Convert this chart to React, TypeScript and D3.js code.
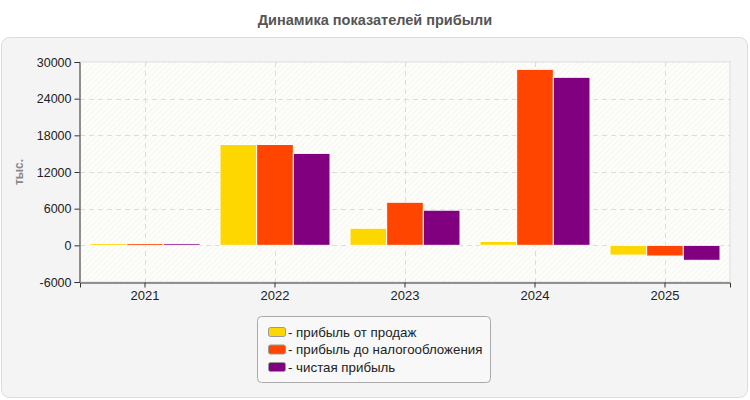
import React, { useEffect, useRef } from "react";
import * as d3 from "d3";

const years = ["2021", "2022", "2023", "2024", "2025"];
const seriesNames = [
  "прибыль от продаж",
  "прибыль до налогообложения",
  "чистая прибыль",
];
const salesProfit = [320, 16500, 2800, 650, -1600];
const pretaxProfit = [300, 16500, 7050, 28800, -1750];
const netProfit = [280, 15050, 5750, 27500, -2450];
const seriesColors = ["#ffd700", "#ff4500", "#800080"];
const yTicks = [-6000, 0, 6000, 12000, 18000, 24000, 30000];

const WIDTH = 750;
const HEIGHT = 400;

export default function App() {
  const ref = useRef<SVGSVGElement>(null);

  useEffect(() => {
    const svg = d3.select(ref.current);
    svg.selectAll("*").remove();

    const series = [salesProfit, pretaxProfit, netProfit];
    const margin = { left: 80, right: 20, top: 62, bottom: 118 };
    const plotW = WIDTH - margin.left - margin.right;
    const plotH = HEIGHT - margin.top - margin.bottom;
    const font = "Arial, 'Liberation Sans', sans-serif";

    const defs = svg.append("defs");
    const pattern = defs
      .append("pattern")
      .attr("id", "hatch")
      .attr("patternUnits", "userSpaceOnUse")
      .attr("width", 4)
      .attr("height", 4)
      .attr("patternTransform", "rotate(45)");
    pattern.append("rect").attr("width", 4).attr("height", 4).attr("fill", "#fdfdfa");
    pattern
      .append("line")
      .attr("x1", 0)
      .attr("y1", 0)
      .attr("x2", 0)
      .attr("y2", 4)
      .attr("stroke", "#ededea")
      .attr("stroke-width", 1);

    // outer panel
    svg
      .append("rect")
      .attr("x", 1.5)
      .attr("y", 37.5)
      .attr("width", 746)
      .attr("height", 360)
      .attr("rx", 8)
      .attr("fill", "#f4f4f4")
      .attr("stroke", "#dcdcdc");

    svg
      .append("text")
      .attr("x", WIDTH / 2)
      .attr("y", 25)
      .attr("text-anchor", "middle")
      .attr("font-family", font)
      .attr("font-size", 14.5)
      .attr("font-weight", "bold")
      .attr("fill", "#555")
      .text("Динамика показателей прибыли");

    const x = d3
      .scaleBand()
      .domain(years)
      .range([margin.left, margin.left + plotW]);
    const y = d3
      .scaleLinear()
      .domain([-6000, 30000])
      .range([margin.top + plotH, margin.top]);
    const inner = d3
      .scaleBand()
      .domain(d3.range(series.length).map(String))
      .range([10, x.bandwidth() - 10]);

    svg
      .append("rect")
      .attr("x", margin.left)
      .attr("y", margin.top)
      .attr("width", plotW)
      .attr("height", plotH)
      .attr("fill", "url(#hatch)")
      .attr("stroke", "#ddd");

    const grid = svg.append("g").attr("stroke", "#dcdcdc").attr("stroke-dasharray", "5,4");
    grid
      .selectAll("line.h")
      .data(yTicks.slice(1, -1))
      .join("line")
      .attr("x1", margin.left)
      .attr("x2", margin.left + plotW)
      .attr("y1", (d) => Math.round(y(d)) + 0.5)
      .attr("y2", (d) => Math.round(y(d)) + 0.5);
    grid
      .selectAll("line.v")
      .data(years)
      .join("line")
      .attr("x1", (d) => Math.round(x(d)! + x.bandwidth() / 2) + 0.5)
      .attr("x2", (d) => Math.round(x(d)! + x.bandwidth() / 2) + 0.5)
      .attr("y1", margin.top)
      .attr("y2", margin.top + plotH);

    const groups = svg
      .append("g")
      .selectAll("g")
      .data(years)
      .join("g")
      .attr("transform", (d) => `translate(${x(d)},0)`);

    groups
      .selectAll("rect")
      .data((_, i) => series.map((s, k) => ({ k, v: s[i] })))
      .join("rect")
      .attr("x", (d) => inner(String(d.k))!)
      .attr("width", inner.bandwidth())
      .attr("y", (d) => y(Math.max(0, d.v)))
      .attr("height", (d) => Math.abs(y(d.v) - y(0)))
      .attr("fill", (d) => seriesColors[d.k])
      .attr("stroke", "#fff")
      .attr("stroke-width", 1);

    const yAxis = svg
      .append("g")
      .attr("transform", `translate(${margin.left - 0.5},0)`)
      .call(d3.axisLeft(y).tickValues(yTicks).tickSize(5).tickPadding(3).tickFormat((d) => String(d)));
    const xAxis = svg
      .append("g")
      .attr("transform", `translate(0,${margin.top + plotH + 0.5})`)
      .call(d3.axisBottom(x).tickSize(5).tickPadding(3));
    [yAxis, xAxis].forEach((a) => {
      a.select(".domain").attr("stroke", "#333");
      a.selectAll(".tick line").attr("stroke", "#333");
      a.selectAll("text").attr("font-family", font).attr("font-size", 12.5).attr("fill", "#222");
    });
    xAxis.selectAll("text").attr("font-size", 13);

    svg
      .append("text")
      .attr("transform", `translate(23,${margin.top + plotH / 2}) rotate(-90)`)
      .attr("text-anchor", "middle")
      .attr("font-family", font)
      .attr("font-size", 12)
      .attr("font-weight", "bold")
      .attr("fill", "#888")
      .text("тыс.");

    // legend
    const legend = svg.append("g");
    legend
      .append("rect")
      .attr("x", 257.5)
      .attr("y", 316.5)
      .attr("width", 233)
      .attr("height", 66)
      .attr("rx", 4)
      .attr("fill", "#f8f8f8")
      .attr("stroke", "#aaa");
    const items = legend
      .selectAll("g")
      .data(seriesNames)
      .join("g")
      .attr("transform", (_, i) => `translate(268,${332 + i * 17.5})`);
    items
      .append("rect")
      .attr("x", 0.5)
      .attr("y", -4.5)
      .attr("width", 17)
      .attr("height", 9)
      .attr("rx", 2)
      .attr("fill", (_, i) => seriesColors[i])
      .attr("stroke", "#999");
    items
      .append("text")
      .attr("x", 20)
      .attr("y", 4.5)
      .attr("font-family", font)
      .attr("font-size", 13.3)
      .attr("fill", "#222")
      .text((d) => "- " + d);
  }, []);

  return (
    <div style={{ position: "absolute", left: 0, top: 0 }}>
      <svg ref={ref} width={WIDTH} height={HEIGHT} style={{ display: "block", background: "#fff" }} />
    </div>
  );
}
